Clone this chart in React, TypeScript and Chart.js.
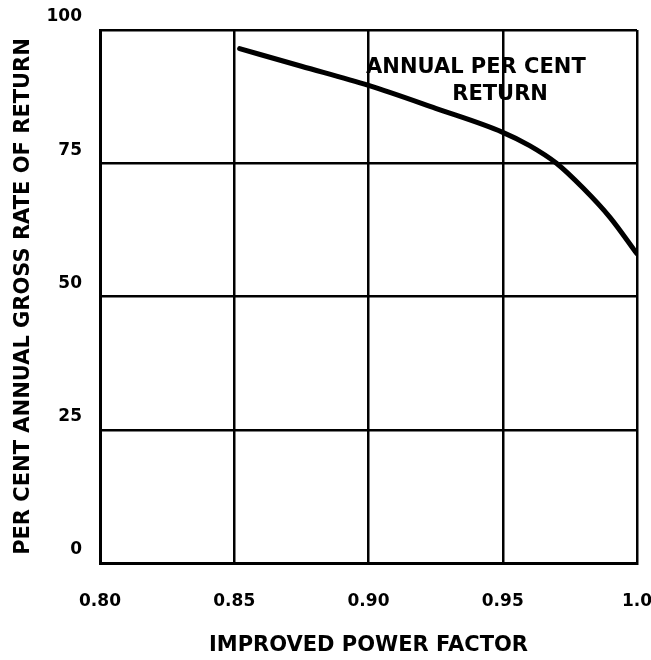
import React, { useEffect, useRef } from "react";
import { Chart, registerables } from "chart.js";

Chart.register(...registerables);

const powerFactor = [0.852, 0.875, 0.9, 0.925, 0.95, 0.96, 0.97, 0.98, 0.99, 1.0];
const annualReturn = [96.5, 93.2, 89.6, 85.3, 80.8, 78.3, 75.0, 70.3, 64.8, 58.0];
const xTickLabels = ["0.80", "0.85", "0.90", "0.95", "1.0"];
const yTickLabels = ["0", "25", "50", "75", "100"];
const xTitle = "IMPROVED POWER FACTOR";
const yTitle = "PER CENT ANNUAL GROSS RATE OF RETURN";
const noteLines = ["ANNUAL PER CENT", "RETURN"];
const notePositions = [
  { x: 0.94, y: 93.0 },
  { x: 0.949, y: 87.8 },
];

const FONT = "'DejaVu Sans', sans-serif";

const notePlugin = {
  id: "notePlugin",
  afterDatasetsDraw(chart: any) {
    const { ctx, scales } = chart;
    ctx.save();
    ctx.fillStyle = "#000";
    ctx.font = `bold 21px ${FONT}`;
    ctx.textAlign = "center";
    ctx.textBaseline = "middle";
    noteLines.forEach((line, i) => {
      const p = notePositions[i];
      ctx.fillText(line, scales.x.getPixelForValue(p.x), scales.y.getPixelForValue(p.y));
    });
    ctx.restore();
  },
};

export default function App() {
  const canvasRef = useRef<HTMLCanvasElement | null>(null);

  useEffect(() => {
    document.body.style.margin = "0";
    const canvas = canvasRef.current;
    if (!canvas) return;
    const chart = new Chart(canvas, {
      type: "line",
      data: {
        datasets: [
          {
            data: powerFactor.map((x, i) => ({ x, y: annualReturn[i] })),
            borderColor: "#000",
            borderWidth: 5,
            pointRadius: 0,
            cubicInterpolationMode: "monotone",
            borderCapStyle: "round",
            borderJoinStyle: "round",
            fill: false,
          },
        ],
      },
      options: {
        animation: false,
        responsive: false,
        maintainAspectRatio: false,
        layout: { padding: { left: 0, right: 14, top: 30, bottom: 0 } },
        plugins: {
          legend: { display: false },
          tooltip: { enabled: false },
        },
        scales: {
          x: {
            type: "linear",
            min: 0.8,
            max: 1.0,
            afterFit: (s: any) => {
              s.height = 97;
              s.paddingLeft = 0;
              s.paddingRight = 0;
            },
            afterBuildTicks: (s: any) => {
              s.ticks = xTickLabels.map((_, i) => ({ value: 0.8 + i * 0.05 }));
            },
            ticks: {
              color: "#000",
              font: { family: FONT, weight: "bold", size: 17 },
              padding: 28,
              maxRotation: 0,
              autoSkip: false,
              callback: (_v: any, i: number) => xTickLabels[i],
            },
            grid: { color: "#000", lineWidth: 2.5, drawTicks: false },
            border: { color: "#000", width: 3 },
            title: {
              display: true,
              text: xTitle,
              color: "#000",
              font: { family: FONT, weight: "bold", size: 21 },
              padding: { top: 0, bottom: 2 },
            },
          },
          y: {
            min: 0,
            max: 100,
            afterFit: (s: any) => {
              s.width = 100;
              s.paddingTop = 0;
              s.paddingBottom = 0;
            },
            ticks: {
              stepSize: 25,
              color: "#000",
              font: { family: FONT, weight: "bold", size: 17 },
              padding: 18,
              labelOffset: -13,
              callback: (_v: any, i: number) => yTickLabels[i],
            },
            grid: { color: "#000", lineWidth: 2.5, drawTicks: false },
            border: { color: "#000", width: 3 },
            title: {
              display: true,
              text: yTitle,
              color: "#000",
              font: { family: FONT, weight: "bold", size: 21 },
              padding: { top: 11, bottom: 0 },
            },
          },
        },
      },
      plugins: [notePlugin],
    } as any);
    return () => chart.destroy();
  }, []);

  return (
    <div style={{ width: 651, height: 660, background: "#fff" }}>
      <canvas ref={canvasRef} width={651} height={660} style={{ display: "block", width: 651, height: 660 }} />
    </div>
  );
}
